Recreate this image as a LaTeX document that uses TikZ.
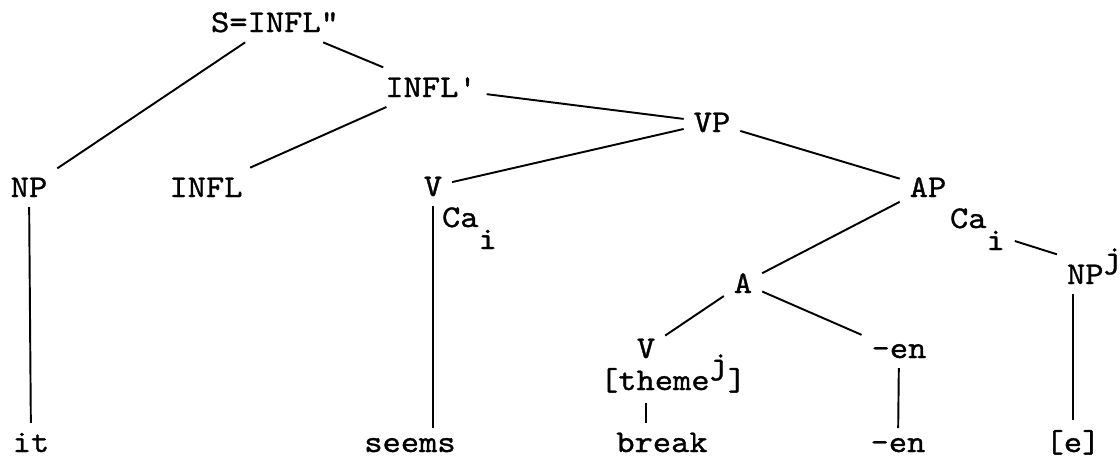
\documentclass[tikz,border=0pt]{standalone}
\usepackage{fontspec}
\newfontfamily\treefont{lmmono10-regular.otf}[FakeStretch=1.1,FakeBold=1]
\usetikzlibrary{positioning}
\newcommand{\lowidx}[1]{\raisebox{-0.44cm}{#1}}
\newcommand{\highidx}[1]{\raisebox{0.33cm}{#1}}

\begin{document}
\begin{tikzpicture}[
  x=0.02cm, y=-0.02cm,
  cat/.style={inner sep=5.5pt, font=\treefont\fontsize{18}{22}\selectfont, anchor=base},
  branch/.style={line width=1.1pt},
]
  \useasboundingbox (0,0) rectangle (1120,458);
  % upper part of the tree
  \node[cat] (S) at (275,32) {S=INFL"};
  \node[cat] (Ibar) at (431,97) {INFL'};
  \node[cat] (VP) at (712,132) {VP};
  \node[cat] (NP) at (29,197) {NP};
  \node[cat] (INFL) at (206,197) {INFL};
  \node[cat] (V) at (433,196) {V};
  \node[cat, anchor=base west] (CaL) at (432,227) {Ca\lowidx{i}};
  \node[cat] (AP) at (928,197) {AP};
  \node[cat, anchor=base west] (CaR) at (940,228) {Ca\lowidx{i}};
  \node[cat, anchor=base west] (NPj) at (1057,284) {NP\highidx{j}};
  \node[cat] (A) at (743,293) {A};
  \node[cat] (Vb) at (646,358) {V};
  \node[cat, anchor=base west] (theme) at (590,390) {[theme\highidx{j}]};
  \node[cat] (en1) at (899,358) {-en};
  % words
  \node[cat] (it) at (31,452) {it};
  \node[cat] (seems) at (410,452) {seems};
  \node[cat] (brk) at (662,452) {break};
  \node[cat] (en2) at (898,452) {-en};
  \node[cat] (e) at (1073,452) {[e]};

  \draw[branch] (S) -- (NP);
  \draw[branch] (S) -- (Ibar);
  \draw[branch] (Ibar) -- (INFL);
  \draw[branch] (Ibar) -- (VP);
  \draw[branch] (VP) -- (V);
  \draw[branch] (VP) -- (AP);
  \draw[branch] (AP) -- (A);
  \draw[branch] (A) -- (Vb);
  \draw[branch] (A) -- (en1);
  \draw[branch] (CaR) -- (NPj);
  \draw[branch] (NP) -- (it);
  \draw[branch] (V) -- (V |- seems.north);
  \draw[branch] (theme.south -| Vb) -- (brk.north -| Vb);
  \draw[branch] (en1) -- (en2);
  \draw[branch] (NPj.south -| e) -- (e);
\end{tikzpicture}
\end{document}
